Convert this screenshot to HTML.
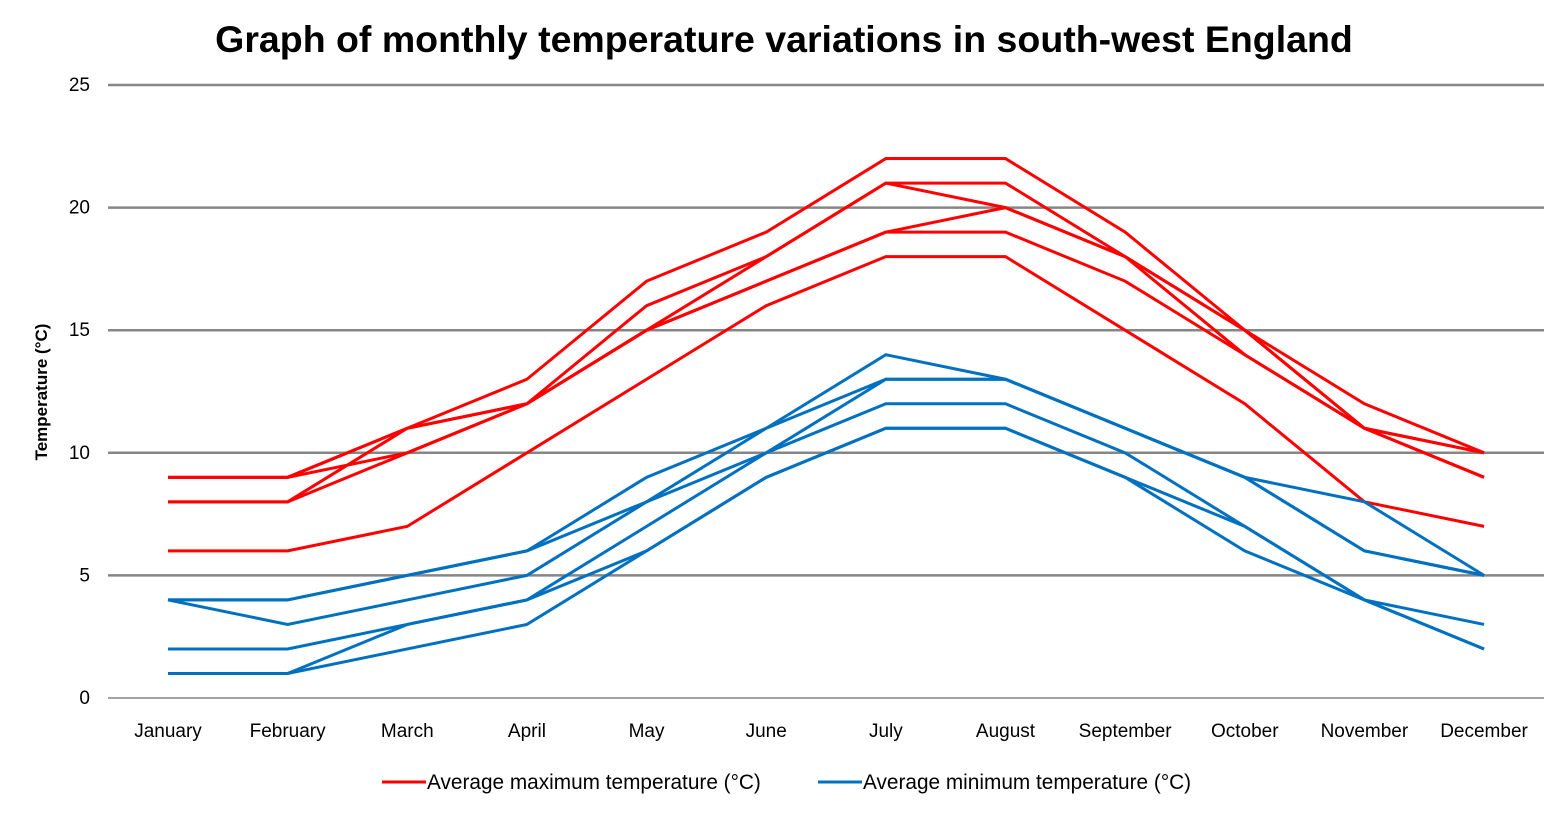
<!DOCTYPE html>
<html><head><meta charset="utf-8"><style>
body{margin:0;background:#fff;font-family:"Liberation Sans",sans-serif}
</style></head><body>
<svg id="chart" width="1568" height="813" xmlns="http://www.w3.org/2000/svg" font-family="Liberation Sans, sans-serif">
<text x="784" y="52" text-anchor="middle" font-size="37.5" font-weight="bold">Graph of monthly temperature variations in south-west England</text>
<text transform="translate(47,392) rotate(-90)" text-anchor="middle" font-size="17" font-weight="bold">Temperature (°C)</text>
<g id="grid"></g><g id="lines"></g>
<g>
<line x1="382" y1="782" x2="426" y2="782" stroke="#ff0000" stroke-width="3"/>
<text x="427" y="789" font-size="20.8">Average maximum temperature (°C)</text>
<line x1="818" y1="782" x2="862" y2="782" stroke="#0070c0" stroke-width="3"/>
<text x="863" y="789" font-size="20.8">Average minimum temperature (°C)</text>
</g>
</svg>
<script>
const months=["January","February","March","April","May","June","July","August","September","October","November","December"];
const yTicks=[0,5,10,15,20,25];
const maxSeries=[
[9,9,11,13,17,19,22,22,19,15,12,10],
[9,9,10,12,15,17,19,20,18,15,11,10],
[8,8,11,12,16,18,21,21,18,14,11,9],
[8,8,10,12,15,18,21,20,18,15,11,10],
[6,6,7,10,13,16,18,18,15,12,8,7],
[9,9,11,12,15,17,19,19,17,14,11,9]];
const minSeries=[
[4,4,5,6,9,11,13,13,11,9,8,5],
[4,4,5,6,8,10,12,12,10,7,4,2],
[4,3,4,5,8,11,14,13,11,9,6,5],
[2,2,3,4,7,10,13,13,11,9,6,5],
[1,1,3,4,6,9,11,11,9,7,4,2],
[1,1,2,3,6,9,11,11,9,6,4,3]];
const ns="http://www.w3.org/2000/svg";
const xS=i=>168+i*119.64;
const yS=v=>698-v*24.52;
const grid=document.getElementById('grid'),lines=document.getElementById('lines');
yTicks.forEach(t=>{
 const l=document.createElementNS(ns,'line');
 
 
 l.setAttribute('x1',108);l.setAttribute('x2',1544);l.setAttribute('y1',yS(t));l.setAttribute('y2',yS(t));
 l.setAttribute('stroke','#868686');l.setAttribute('stroke-width',t===0?1.5:2.5);grid.appendChild(l);
 const tx=document.createElementNS(ns,'text');
 
 
 tx.setAttribute('x',90);tx.setAttribute('y',yS(t)+6);tx.setAttribute('text-anchor','end');tx.setAttribute('font-size','19');
 tx.textContent=t;grid.appendChild(tx);
});
months.forEach((m,i)=>{
 const tx=document.createElementNS(ns,'text');
 
 
 tx.setAttribute('x',xS(i));tx.setAttribute('y',737);tx.setAttribute('text-anchor','middle');tx.setAttribute('font-size','19');
 tx.textContent=m;grid.appendChild(tx);
});
function draw(arr,color,name){
 arr.forEach(s=>{
  const p=document.createElementNS(ns,'polyline');
  
  
  p.setAttribute('points',s.map((v,i)=>xS(i)+','+yS(v)).join(' '));
  p.setAttribute('fill','none');p.setAttribute('stroke',color);p.setAttribute('stroke-width',3);
  lines.appendChild(p);
 });
}
draw(maxSeries,'#ff0000','max-temp-line');
draw(minSeries,'#0070c0','min-temp-line');
</script>
</body></html>
